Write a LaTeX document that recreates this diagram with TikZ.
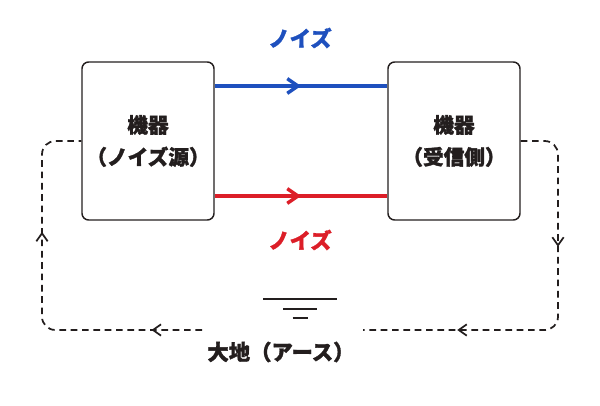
\documentclass[tikz,border=0pt]{standalone}
\usepackage{fontspec}
\setmainfont{Noto Sans CJK JP}[FakeBold=1.5]
\usetikzlibrary{arrows.meta,decorations.markings}
\definecolor{noiseblue}{RGB}{30,80,190}
\definecolor{noisered}{RGB}{220,30,40}
\definecolor{ink}{RGB}{35,30,30}
\tikzset{
  device/.style={draw=ink,line width=1.1pt,rounded corners=5pt,minimum width=99pt,minimum height=118.5pt,inner sep=0pt,align=center,font=\fontsize{15.5}{24}\selectfont\bfseries,text=ink},
  label/.style={font=\fontsize{16}{20}\selectfont\bfseries},
  tip/.style={decoration={markings,mark=at position #1 with {\arrow{Straight Barb[length=8pt,width=11pt]}}},postaction=decorate},
  tips/.style 2 args={decoration={markings,
    mark=at position #1 with {\arrow[solid]{Straight Barb[length=6pt,width=8.5pt]}},
    mark=at position #2 with {\arrow[solid]{Straight Barb[length=6pt,width=8.5pt]}}},postaction=decorate},
  loop/.style={draw=ink,dash pattern=on 5pt off 3.5pt,line width=1.3pt,rounded corners=10pt},
}
\begin{document}
\begin{tikzpicture}[x=0.75pt,y=-0.75pt]
\useasboundingbox (0,0) rectangle (600,406);
% devices
\node[device] (src) at (148,141) {機器\\（ノイズ源）};
\node[device] (rcv) at (454,141) {機器\\（受信側）};
% noise lines
\draw[noiseblue,line width=2.6pt,tip=0.5] (src.east|-0,86) -- (rcv.west|-0,86);
\draw[noisered,line width=2.6pt,tip=0.5] (src.east|-0,196) -- (rcv.west|-0,196);
\node[label,text=noiseblue] (bl) at (300,38) {ノイズ};
\node[label,text=noisered] (rl) at (300,240) {ノイズ};
% ground
\coordinate (gnd) at (300,299);
\draw[ink,line width=2.2pt] ([xshift=-27.5]gnd) -- ([xshift=27.5]gnd)
  ([shift={(-17,10)}]gnd) -- ([shift={(17,10)}]gnd)
  ([shift={(-7.5,19)}]gnd) -- ([shift={(7.5,19)}]gnd);
\node[label,text=ink] (earth) at (281,352) {大地（アース）};
% return path
\coordinate (gl) at (202,330);
\coordinate (gr) at (363,330);
\path[loop,tips={0.335}{0.77}] (rcv.east) -- (558,141) -- (558,330) -- (gr);
\path[loop,tips={0.134}{0.67}] (gl) -- (42,330) -- (42,141) -- (src.west);
\end{tikzpicture}
\end{document}
